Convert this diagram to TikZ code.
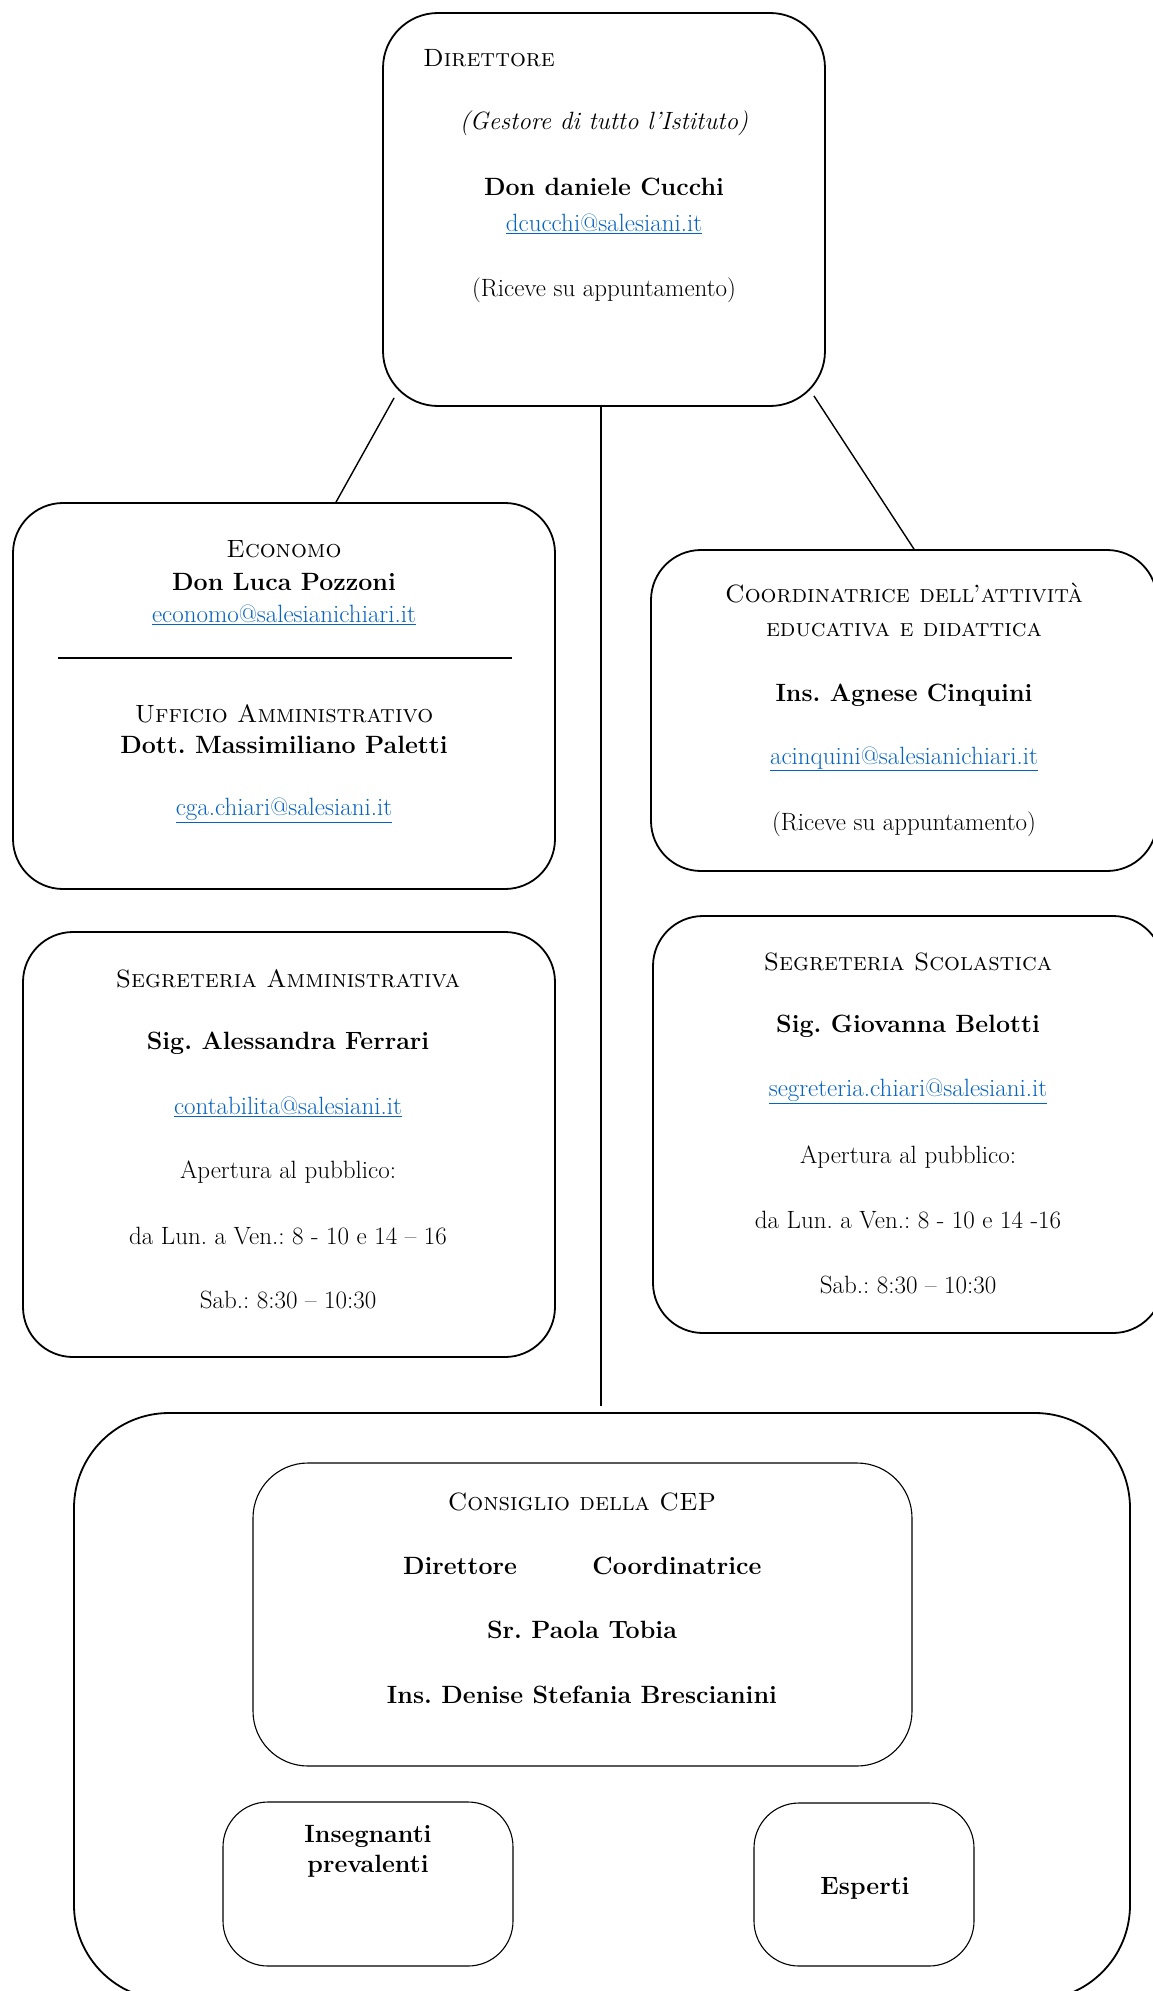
\documentclass[tikz,border=0pt]{standalone}
\usetikzlibrary{positioning}
\usetikzlibrary{calc}
\definecolor{linkblue}{HTML}{0563C1}
\newcommand{\mailto}[1]{\textcolor{linkblue}{\underline{#1}}}
\frenchspacing

\begin{document}
\begin{tikzpicture}[
                x=1pt, y=-1pt,
                box/.style = {draw, rounded corners=#1, line width=1.8pt, inner sep=0pt},
                box/.default = 55pt,
                thinbox/.style = {box=#1, line width=1.1pt},
                thinbox/.default = 45pt,
                txt/.style = {font=\fontsize{25}{30}\selectfont, inner sep=0pt},
                person/.style = {font=\fontsize{25}{30}\selectfont\bfseries, inner sep=0pt},
                wire/.style = {line width=1.4pt}
                ]

                \useasboundingbox (0,0) rectangle (1153,1991);
                \clip (0,0) rectangle (1153,1991);

                % --- Box ---
                \node[box, minimum width=442pt, minimum height=393pt] (dir) at (604,209.5) {};
                \node[box=50pt, minimum width=542pt, minimum height=386pt] (econ) at (284,696) {};
                \node[box=50pt, minimum width=506pt, minimum height=321pt] (coord) at (904,710.5) {};
                \node[box=50pt, minimum width=532pt, minimum height=425pt] (segamm) at (289,1144.5) {};
                \node[box=50pt, minimum width=510pt, minimum height=417pt] (segscol) at (908,1124.5) {};
                \node[box=95pt, minimum width=1056pt, minimum height=587pt] (cep) at (602,1706.5) {};
                \node[thinbox=55pt, minimum width=659pt, minimum height=303pt] (consiglio) at (582.5,1614.5) {};
                \node[thinbox, minimum width=290pt, minimum height=164pt] (ins) at (368,1884) {};
                \node[thinbox, minimum width=220pt, minimum height=163pt] (esp) at (864,1884.5) {};

                % --- Direttore ---
                \node[txt, anchor=west] (dirtitle) at (423,58) {\textsc{Direttore}};
                \node[txt] (dirrole) at (604,123) {\itshape (Gestore di tutto l’Istituto)};
                \node[person] (dirname) at (604,187) {Don daniele Cucchi};
                \node[txt] (dirmail) at (604,224) {\mailto{dcucchi@salesiani.it}};
                \node[txt] (dirnote) at (604,290) {(Riceve su appuntamento)};

                % --- Economo e ufficio amministrativo ---
                \node[txt] (econtitle) at (284,549) {\textsc{Economo}};
                \node[person] (econname) at (284,582) {Don Luca Pozzoni};
                \node[txt] (econmail) at (284,615) {\mailto{economo@salesianichiari.it}};
                \draw[line width=1.2pt] (58,658) -- (512,658);
                \node[txt] (ufftitle) at (284,714) {\textsc{Ufficio Amministrativo}};
                \node[person] (uffname) at (284,745) {Dott. Massimiliano Paletti};
                \node[txt] (uffmail) at (284,810) {\mailto{cga.chiari@salesiani.it}};

                % --- Coordinatrice ---
                \node[txt] (coordtitle) at (904,593) {\textsc{Coordinatrice dell’attività}};
                \node[txt] (coordtitleb) at (904,630) {\textsc{educativa e didattica}};
                \node[person] (coordname) at (904,695) {Ins. Agnese Cinquini};
                \node[txt] (coordmail) at (904,759) {\mailto{acinquini@salesianichiari.it}};
                \node[txt] (coordnote) at (904,824) {(Riceve su appuntamento)};

                % --- Segreterie ---
                \node[txt] (segammtitle) at (288,979) {\textsc{Segreteria Amministrativa}};
                \node[person] (segammname) at (288,1043) {Sig. Alessandra Ferrari};
                \node[txt] (segammmail) at (288,1107) {\mailto{contabilita@salesiani.it}};
                \node[txt] (segammopen) at (288,1172) {Apertura al pubblico:};
                \node[txt] (segammweek) at (288,1236) {da Lun. a Ven.: 8 - 10 e 14 -- 16};
                \node[txt] (segammsat) at (288,1300) {Sab.: 8:30 -- 10:30};

                \node[txt] (segscoltitle) at (908,962) {\textsc{Segreteria Scolastica}};
                \node[person] (segscolname) at (908,1026) {Sig. Giovanna Belotti};
                \node[txt] (segscolmail) at (908,1091) {\mailto{segreteria.chiari@salesiani.it}};
                \node[txt] (segscolopen) at (908,1157) {Apertura al pubblico:};
                \node[txt] (segscolweek) at (908,1220) {da Lun. a Ven.: 8 - 10 e 14 -16};
                \node[txt] (segscolsat) at (908,1285) {Sab.: 8:30 -- 10:30};

                % --- Consiglio della CEP ---
                \node[txt] (constitle) at (582,1502) {\textsc{Consiglio della CEP}};
                \node[person] (consdir) at (460,1566) {Direttore};
                \node[person] (conscoord) at (677,1566) {Coordinatrice};
                \node[person] (conssr) at (582,1630) {Sr. Paola Tobia};
                \node[person] (consins) at (582,1695) {Ins. Denise Stefania Brescianini};
                \node[person, align=center] (instxt) at (368,1851) {Insegnanti\\prevalenti};
                \node[person] (esptxt) at (865,1888) {Esperti};

                % --- Collegamenti ---
                \draw[wire] ($(dir.south west)+(12,-9)$) -- ($(econ.north)+(52,0)$);
                \draw[wire] ($(dir.south)+(-3,0)$) -- ($(cep.north)+(-1,-6)$);
                \draw[wire] ($(dir.south east)+(-12,-11)$) -- ($(coord.north)+(10,0)$);

            \end{tikzpicture}
\end{document}
